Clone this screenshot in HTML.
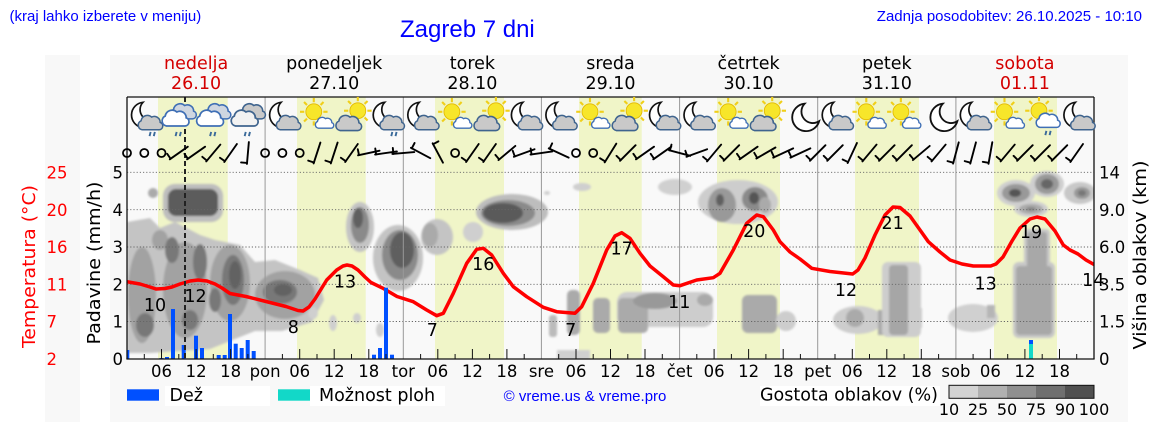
<!DOCTYPE html>
<html><head><meta charset="utf-8"><style>
html,body{margin:0;padding:0;background:#fff;}
svg{display:block;}
.d{font-family:"DejaVu Sans","Liberation Sans",sans-serif;}
.l{font-family:"Liberation Sans",Arial,sans-serif;}
</style></head><body>
<svg width="1152" height="443" viewBox="0 0 1152 443" xmlns="http://www.w3.org/2000/svg">
<defs>
<clipPath id="pc"><rect x="127" y="97" width="967" height="262"/></clipPath>
<filter id="bl" x="-5%" y="-5%" width="110%" height="110%"><feGaussianBlur stdDeviation="1.1"/></filter>
<path id="cl" d="M3 14 A4.5 4.5 0 0 1 2 5.5 A6 6 0 0 1 12 2 A5.5 5.5 0 0 1 20 7 A3.6 3.6 0 0 1 19 14 Z"/>
<path id="mn" d="M14.8 4.07 A12 12 0 1 0 27.52 19.33 A10 10 0 0 1 14.8 4.07 Z" fill="#fff" stroke="#111" stroke-width="1.6"/>
<g id="sun"><g stroke="#f0cf1a" stroke-width="2"><line x1="0" y1="-9" x2="0" y2="-13"/><line x1="0" y1="9" x2="0" y2="13"/><line x1="-9" y1="0" x2="-13" y2="0"/><line x1="9" y1="0" x2="13" y2="0"/><line x1="6.4" y1="6.4" x2="9.2" y2="9.2"/><line x1="-6.4" y1="6.4" x2="-9.2" y2="9.2"/><line x1="6.4" y1="-6.4" x2="9.2" y2="-9.2"/><line x1="-6.4" y1="-6.4" x2="-9.2" y2="-9.2"/></g><circle r="7.5" fill="#f7e62a" stroke="#e2b800" stroke-width="0.8"/></g>
<g id="rn" stroke="#3a6a9a" stroke-width="1.8"><line x1="2" y1="0" x2="1" y2="4"/><line x1="6" y1="0" x2="5" y2="4"/></g>
<g id="MC"><use href="#mn"/><use href="#cl" transform="translate(11,16) scale(1.0)" fill="#c9c9c9" stroke="#3f648e" stroke-width="1.4"/></g>
<g id="MCR"><use href="#MC"/><use href="#rn" transform="translate(20,32)"/></g>
<g id="SS"><use href="#sun" transform="translate(13,13)"/><use href="#cl" transform="translate(15,18) scale(0.75)" fill="#fff" stroke="#3f6fb5" stroke-width="1.7"/></g>
<g id="SC"><use href="#sun" transform="translate(22,12)"/><use href="#cl" transform="translate(2,16) scale(1.05)" fill="#c9c9c9" stroke="#3f648e" stroke-width="1.4"/></g>
<g id="SCR"><use href="#sun" transform="translate(13,12)"/><use href="#cl" transform="translate(11,14) scale(0.98)" fill="#fff" stroke="#3f6fb5" stroke-width="1.5"/><use href="#rn" transform="translate(18,31)"/></g>
<g id="CRW"><use href="#cl" transform="translate(9,5) scale(1.05)" fill="#cfd6e0" stroke="#3f6fb5" stroke-width="1.4"/><use href="#cl" transform="translate(1,11) scale(1.1)" fill="#fff" stroke="#3f6fb5" stroke-width="1.5"/><use href="#rn" transform="translate(12,32)"/></g>
<g id="CRG"><use href="#cl" transform="translate(9,5) scale(1.05)" fill="#c9c9c9" stroke="#3f648e" stroke-width="1.4"/><use href="#cl" transform="translate(1,11) scale(1.1)" fill="#f2f2f2" stroke="#3f648e" stroke-width="1.5"/><use href="#rn" transform="translate(12,32)"/></g>
<g id="M"><use href="#mn" transform="translate(4,1) scale(1.08)"/></g>
<g id="b" stroke="#000" stroke-width="1.9" stroke-linecap="round"><line x1="-11" y1="0" x2="11" y2="0"/><line x1="-10" y1="0" x2="-10" y2="-6"/></g>
</defs>

<rect width="1152" height="443" fill="#fff"/>
<rect x="110" y="55" width="1018" height="367" fill="#f8f8f8"/>
<rect x="45" y="55" width="35" height="367" fill="#f8f8f8"/>

<text class="l" x="9.5" y="21" font-size="15" fill="#0000ff">(kraj lahko izberete v meniju)</text>
<text class="l" x="1142" y="21" font-size="15" fill="#0000ff" text-anchor="end">Zadnja posodobitev: 26.10.2025 - 10:10</text>
<text class="l" x="400" y="37" font-size="24" fill="#0000ff">Zagreb 7 dni</text>

<g class="d" font-size="17.5" text-anchor="middle">
<text x="196.1" y="69" fill="#d40000">nedelja</text><text x="196.1" y="89" fill="#d40000">26.10</text>
<text x="334.2" y="69" fill="#000">ponedeljek</text><text x="334.2" y="89" fill="#000">27.10</text>
<text x="472.4" y="69" fill="#000">torek</text><text x="472.4" y="89" fill="#000">28.10</text>
<text x="610.5" y="69" fill="#000">sreda</text><text x="610.5" y="89" fill="#000">29.10</text>
<text x="748.6" y="69" fill="#000">četrtek</text><text x="748.6" y="89" fill="#000">30.10</text>
<text x="886.8" y="69" fill="#000">petek</text><text x="886.8" y="89" fill="#000">31.10</text>
<text x="1024.9" y="69" fill="#d40000">sobota</text><text x="1024.9" y="89" fill="#d40000">01.11</text>
</g>

<rect x="127" y="97" width="967" height="262" fill="#f9f9f9"/>
<g fill="#f0f5c8">
<rect x="158" y="97" width="69.7" height="262"/>
<rect x="297" y="97" width="68.7" height="262"/>
<rect x="435" y="97" width="69" height="262"/>
<rect x="579" y="97" width="62.7" height="262"/>
<rect x="717" y="97" width="63" height="262"/>
<rect x="855" y="97" width="64" height="262"/>
<rect x="994" y="97" width="63" height="262"/>
</g>

<g clip-path="url(#pc)" filter="url(#bl)">
<path d="M127 222 L150 218 L160 228 L175 222 L200 235 L215 240 L240 245 L255 262 L275 260 L300 270 L318 278 L324 300 L312 322 L282 331 L255 331 L230 341 L210 349 L180 351 L150 353 L127 353 Z" fill="#c4c4c4"/>
<rect x="163" y="184" width="60" height="38" rx="12" fill="#bdbdbd"/>
<rect x="168" y="189" width="50" height="27" rx="8" fill="#5c5c5c"/>
<ellipse cx="153" cy="193" rx="5" ry="5" fill="#aaa"/>
<g fill="#a2a2a2">
<ellipse cx="142" cy="295" rx="14" ry="48"/><ellipse cx="185" cy="290" rx="22" ry="48"/><ellipse cx="230" cy="283" rx="20" ry="38"/><ellipse cx="285" cy="295" rx="30" ry="24"/><ellipse cx="160" cy="240" rx="8" ry="10"/>
</g>
<g fill="#787878">
<ellipse cx="172" cy="250" rx="7" ry="13"/><ellipse cx="200" cy="262" rx="7" ry="18"/><ellipse cx="233" cy="280" rx="11" ry="25"/><ellipse cx="280" cy="292" rx="17" ry="12"/><ellipse cx="145" cy="325" rx="9" ry="12"/><ellipse cx="190" cy="320" rx="8" ry="10"/><ellipse cx="215" cy="300" rx="6" ry="12"/>
</g>
<g fill="#626262"><ellipse cx="235" cy="275" rx="6" ry="14"/><ellipse cx="283" cy="290" rx="9" ry="6"/></g>
<ellipse cx="360" cy="227" rx="14" ry="25" fill="#c4c4c4"/><ellipse cx="360" cy="225" rx="9" ry="18" fill="#8a8a8a"/><ellipse cx="358" cy="218" rx="5" ry="10" fill="#606060"/>
<ellipse cx="398" cy="258" rx="25" ry="33" fill="#c4c4c4"/><ellipse cx="400" cy="255" rx="18" ry="25" fill="#8a8a8a"/><ellipse cx="402" cy="250" rx="12" ry="18" fill="#5f5f5f"/>
<ellipse cx="437" cy="237" rx="16" ry="18" fill="#c4c4c4"/><ellipse cx="430" cy="235" rx="8" ry="12" fill="#aaa"/>
<ellipse cx="473" cy="232" rx="10" ry="10" fill="#cfcfcf"/>
<ellipse cx="512" cy="212" rx="36" ry="18" fill="#bdbdbd"/><ellipse cx="508" cy="213" rx="27" ry="13" fill="#8a8a8a"/><ellipse cx="503" cy="213" rx="20" ry="10" fill="#5a5a5a"/>
<g fill="#cfcfcf"><ellipse cx="313" cy="313" rx="5" ry="6"/><ellipse cx="333" cy="323" rx="4" ry="8"/><ellipse cx="357" cy="318" rx="4" ry="5"/><ellipse cx="380" cy="330" rx="4" ry="7"/><ellipse cx="320" cy="288" rx="3" ry="4"/></g>
<ellipse cx="582" cy="187" rx="9" ry="4" fill="#cfcfcf"/><ellipse cx="547" cy="193" rx="3" ry="2" fill="#cfcfcf"/>
<ellipse cx="675" cy="187" rx="17" ry="8" fill="#d0d0d0"/>
<rect x="567" y="290" width="13" height="45" rx="5" fill="#aaa"/>
<rect x="549" y="315" width="8" height="22" rx="3" fill="#bbb"/>
<rect x="557" y="350" width="33" height="12" fill="#d0d0d0"/>
<rect x="593" y="298" width="17" height="35" rx="5" fill="#aaa"/>
<rect x="617" y="292" width="96" height="35" rx="10" fill="#cdcdcd"/>
<rect x="618" y="298" width="30" height="35" rx="5" fill="#aaa"/>
<ellipse cx="655" cy="301" rx="22" ry="8" fill="#999"/>
<ellipse cx="705" cy="300" rx="8" ry="6" fill="#aaa"/>
<rect x="742" y="295" width="35" height="38" rx="6" fill="#aaa"/>
<ellipse cx="786" cy="321" rx="10" ry="10" fill="#cdcdcd"/>
<ellipse cx="738" cy="202" rx="40" ry="22" fill="#cdcdcd"/>
<ellipse cx="722" cy="205" rx="14" ry="17" fill="#999"/><ellipse cx="755" cy="199" rx="13" ry="12" fill="#8a8a8a"/>
<ellipse cx="720" cy="200" rx="4" ry="6" fill="#606060"/><ellipse cx="754" cy="198" rx="5" ry="6" fill="#555"/>
<ellipse cx="765" cy="205" rx="6" ry="8" fill="#aaa"/>
<ellipse cx="858" cy="320" rx="25" ry="14" fill="#cdcdcd"/><ellipse cx="855" cy="318" rx="9" ry="9" fill="#aaa"/>
<rect x="878" y="310" width="6" height="25" fill="#aaa"/>
<rect x="882" y="262" width="39" height="75" rx="6" fill="#cdcdcd"/>
<rect x="889" y="265" width="19" height="70" rx="4" fill="#a6a6a6"/>
<rect x="913" y="308" width="9" height="20" fill="#cdcdcd"/>
<ellipse cx="973" cy="318" rx="25" ry="14" fill="#d0d0d0"/><rect x="987" y="305" width="8" height="13" fill="#b5b5b5"/>
<rect x="1013" y="262" width="42" height="76" rx="6" fill="#c8c8c8"/>
<rect x="1024" y="229" width="26" height="40" rx="4" fill="#c8c8c8"/>
<rect x="1016" y="266" width="36" height="69" rx="4" fill="#a8a8a8"/>
<rect x="1027" y="232" width="20" height="36" rx="3" fill="#a8a8a8"/>
<ellipse cx="1016" cy="193" rx="19" ry="13" fill="#cfcfcf"/><ellipse cx="1047" cy="184" rx="17" ry="13" fill="#cfcfcf"/><ellipse cx="1031" cy="209" rx="17" ry="8" fill="#cfcfcf"/>
<ellipse cx="1016" cy="193" rx="14" ry="9" fill="#999"/><ellipse cx="1047" cy="184" rx="12" ry="10" fill="#999"/><ellipse cx="1031" cy="209" rx="12" ry="5" fill="#aaa"/>
<ellipse cx="1015" cy="193" rx="6" ry="4" fill="#555"/><ellipse cx="1047" cy="184" rx="6" ry="5" fill="#666"/><ellipse cx="1031" cy="209" rx="5" ry="2" fill="#888"/>
<ellipse cx="1080" cy="193" rx="16" ry="11" fill="#c8c8c8"/><ellipse cx="1082" cy="193" rx="8" ry="6" fill="#999"/><ellipse cx="1082" cy="193" rx="4" ry="3" fill="#777"/>
</g>

<g stroke="#666" stroke-width="0.9" stroke-dasharray="1.2,2">
<line x1="127" y1="172.3" x2="1094" y2="172.3"/>
<line x1="127" y1="209.7" x2="1094" y2="209.7"/>
<line x1="127" y1="247" x2="1094" y2="247"/>
<line x1="127" y1="284.3" x2="1094" y2="284.3"/>
<line x1="127" y1="321.5" x2="1094" y2="321.5"/>
</g>
<g stroke="#999" stroke-width="1">
<line x1="265.1" y1="97" x2="265.1" y2="359"/>
<line x1="403.3" y1="97" x2="403.3" y2="359"/>
<line x1="541.4" y1="97" x2="541.4" y2="359"/>
<line x1="679.6" y1="97" x2="679.6" y2="359"/>
<line x1="817.7" y1="97" x2="817.7" y2="359"/>
<line x1="955.9" y1="97" x2="955.9" y2="359"/>
</g>

<polyline fill="none" stroke="#ff0000" stroke-width="3.5" stroke-linejoin="round" stroke-linecap="round" clip-path="url(#pc)" points="127,281.7 140,284 150,287 156,289 165,288.5 172,287 180,284 190,281 198,280 207,281 215,284 222,288 230,293.5 246,296.5 266,301.5 286,306.5 298,310.5 303,311 309,307 315,299 326.7,280 336.7,270 343,266 347,265 352,266 358,270 365,277 371,282.5 383,288.3 397,296.5 413.3,301.7 426.7,310 436.7,315.7 443.3,313.3 453.3,293.3 466.7,263.3 476.7,249.3 483.3,248.3 491.7,255 503.3,273.3 513.3,286.7 526.7,296.7 543.3,307.3 556.7,311.7 575,313.3 581.7,306.7 593.3,283.3 606.7,250 615,236 621.7,232.7 630,238.3 640,253.3 650,266 663.3,276.7 673.3,285 680,285.7 696.7,280 713.3,277.7 720,273.3 733.3,250 746.7,223.3 756.7,215 763.3,216.7 773.3,230 780,241.7 790,252 800,259 811.7,268.3 830,271.5 852.7,274 858,270 865,258 875,235 885,215 893,207 900,207.5 910,216 920,230 928.3,241.7 940,252 950,260 962,264 973.3,266 990.7,266 996,264 1003,257 1012,241 1020,228 1030,219 1037,217 1045,219 1055,231 1063.3,245 1070,250 1078,254 1086,260 1094,264.5"/>

<g fill="#0050ff">
<rect x="127.3" y="350" width="2" height="9"/>
<rect x="159.5" y="358" width="4" height="1"/>
<rect x="165" y="357" width="4" height="2"/>
<rect x="171" y="309" width="4" height="50"/>
<rect x="181.7" y="345" width="4" height="14"/>
<rect x="194" y="335.7" width="4" height="23.3"/>
<rect x="200" y="348" width="4" height="11"/>
<rect x="216.7" y="355" width="4" height="4"/>
<rect x="222.7" y="355" width="4" height="4"/>
<rect x="228" y="314" width="4" height="45"/>
<rect x="233.7" y="343.7" width="4" height="15.3"/>
<rect x="239.7" y="348" width="4" height="11"/>
<rect x="245.7" y="340" width="4" height="19"/>
<rect x="251.7" y="351" width="4" height="8"/>
<rect x="372" y="354.7" width="4" height="4.3"/>
<rect x="378" y="348" width="4" height="11"/>
<rect x="384" y="287.7" width="4" height="71.3"/>
<rect x="390" y="354.7" width="4" height="4.3"/>
<rect x="1029" y="340" width="4" height="4"/>
</g>
<rect x="1029" y="344" width="4" height="15" fill="#12d8c8"/>

<line x1="185" y1="97" x2="185" y2="359" stroke="#222" stroke-width="2" stroke-dasharray="5,3"/>

<g stroke="#111" stroke-width="1.3" fill="none">
<line x1="127" y1="97" x2="1094" y2="97"/>
<line x1="127" y1="97" x2="127" y2="359"/>
<line x1="1094" y1="97" x2="1094" y2="359"/>
<line x1="126.4" y1="359" x2="1094.6" y2="359"/>
</g>
<path stroke="#111" stroke-width="1" fill="none" d="M144.3 359v-5M161.5 359v-10M178.8 359v-5M196.1 359v-10M213.3 359v-5M230.6 359v-10M247.9 359v-5M282.4 359v-5M299.7 359v-10M317 359v-5M334.2 359v-10M351.5 359v-5M368.8 359v-10M386 359v-5M420.6 359v-5M437.8 359v-10M455.1 359v-5M472.4 359v-10M489.6 359v-5M506.9 359v-10M524.2 359v-5M558.7 359v-5M576 359v-10M593.2 359v-5M610.5 359v-10M627.8 359v-5M645 359v-10M662.3 359v-5M696.8 359v-5M714.1 359v-10M731.4 359v-5M748.6 359v-10M765.9 359v-5M783.2 359v-10M800.4 359v-5M835 359v-5M852.3 359v-10M869.5 359v-5M886.8 359v-10M904.1 359v-5M921.3 359v-10M938.6 359v-5M973.1 359v-5M990.4 359v-10M1007.7 359v-5M1024.9 359v-10M1042.2 359v-5M1059.5 359v-10M1076.7 359v-5"/>

<g transform="translate(0,0)">
<use href="#MCR" transform="translate(127.3,98) scale(1.06)"/><use href="#CRW" transform="translate(161.8,98) scale(1.06)"/><use href="#CRW" transform="translate(196.3,98) scale(1.06)"/><use href="#CRG" transform="translate(230.9,98) scale(1.06)"/>
<use href="#MC" transform="translate(265.4,98) scale(1.06)"/><use href="#SS" transform="translate(300,98) scale(1.06)"/><use href="#SC" transform="translate(334.5,98) scale(1.06)"/><use href="#MCR" transform="translate(369,98) scale(1.06)"/>
<use href="#MC" transform="translate(403.6,98) scale(1.06)"/><use href="#SS" transform="translate(438.1,98) scale(1.06)"/><use href="#SC" transform="translate(472.6,98) scale(1.06)"/><use href="#MC" transform="translate(507.2,98) scale(1.06)"/>
<use href="#MC" transform="translate(541.7,98) scale(1.06)"/><use href="#SS" transform="translate(576.2,98) scale(1.06)"/><use href="#SC" transform="translate(610.8,98) scale(1.06)"/><use href="#MC" transform="translate(645.3,98) scale(1.06)"/>
<use href="#MC" transform="translate(679.8,98) scale(1.06)"/><use href="#SS" transform="translate(714.4,98) scale(1.06)"/><use href="#SC" transform="translate(748.9,98) scale(1.06)"/><use href="#M" transform="translate(783.4,98) scale(1.06)"/>
<use href="#MC" transform="translate(818,98) scale(1.06)"/><use href="#SS" transform="translate(852.5,98) scale(1.06)"/><use href="#SS" transform="translate(887.1,98) scale(1.06)"/><use href="#M" transform="translate(921.6,98) scale(1.06)"/>
<use href="#MC" transform="translate(956.1,98) scale(1.06)"/><use href="#SS" transform="translate(990.7,98) scale(1.06)"/><use href="#SCR" transform="translate(1025.2,98) scale(1.06)"/><use href="#MC" transform="translate(1059.7,98) scale(1.06)"/>
</g>

<g fill="none" stroke="#000" stroke-width="1.8">
<circle cx="127" cy="153" r="4"/><circle cx="144.3" cy="153" r="4"/><circle cx="161.5" cy="153" r="4"/>
<circle cx="265.1" cy="153" r="4"/><circle cx="282.4" cy="153" r="4"/><circle cx="299.7" cy="153" r="4"/>
<circle cx="455.1" cy="153" r="4"/><circle cx="576" cy="153" r="4"/><circle cx="593.2" cy="153" r="4"/>
</g>
<use href="#b" transform="translate(178.8,153) rotate(-35)"/>
<use href="#b" transform="translate(196.1,153) rotate(-35)"/>
<use href="#b" transform="translate(213.3,153) rotate(-50)"/>
<use href="#b" transform="translate(230.6,153) rotate(-55)"/>
<use href="#b" transform="translate(247.9,153) rotate(-85)"/>
<use href="#b" transform="translate(317,153) rotate(-72)"/>
<use href="#b" transform="translate(334.2,153) rotate(-72)"/>
<use href="#b" transform="translate(351.5,153) rotate(-55)"/>
<use href="#b" transform="translate(368.8,153) rotate(-12)"/>
<use href="#b" transform="translate(386,153) rotate(-8)"/>
<use href="#b" transform="translate(403.3,153) rotate(-5)"/>
<use href="#b" transform="translate(420.6,153) rotate(28)"/>
<use href="#b" transform="translate(437.8,153) rotate(62)"/>
<use href="#b" transform="translate(472.4,153) rotate(-55)"/>
<use href="#b" transform="translate(489.6,153) rotate(-55)"/>
<use href="#b" transform="translate(506.9,153) rotate(-40)"/>
<use href="#b" transform="translate(524.2,153) rotate(-20)"/>
<use href="#b" transform="translate(541.4,153) rotate(-8)"/>
<use href="#b" transform="translate(558.7,153) rotate(25)"/>
<use href="#b" transform="translate(610.5,153) rotate(-58)"/>
<use href="#b" transform="translate(627.8,153) rotate(-45)"/>
<use href="#b" transform="translate(645,153) rotate(-35)"/>
<use href="#b" transform="translate(662.3,153) rotate(-35)"/>
<use href="#b" transform="translate(679.6,153) rotate(15)"/>
<use href="#b" transform="translate(696.8,153) rotate(-20)"/>
<use href="#b" transform="translate(714.1,153) rotate(-50)"/>
<use href="#b" transform="translate(731.4,153) rotate(-45)"/>
<use href="#b" transform="translate(748.6,153) rotate(-35)"/>
<use href="#b" transform="translate(765.9,153) rotate(-30)"/>
<use href="#b" transform="translate(783.2,153) rotate(-25)"/>
<use href="#b" transform="translate(800.4,153) rotate(-25)"/>
<use href="#b" transform="translate(817.7,153) rotate(-45)"/>
<use href="#b" transform="translate(835,153) rotate(-45)"/>
<use href="#b" transform="translate(852.3,153) rotate(-65)"/>
<use href="#b" transform="translate(869.5,153) rotate(-50)"/>
<use href="#b" transform="translate(886.8,153) rotate(-45)"/>
<use href="#b" transform="translate(904.1,153) rotate(-45)"/>
<use href="#b" transform="translate(921.3,153) rotate(-40)"/>
<use href="#b" transform="translate(938.6,153) rotate(-50)"/>
<use href="#b" transform="translate(955.9,153) rotate(-75)"/>
<use href="#b" transform="translate(973.1,153) rotate(-75)"/>
<use href="#b" transform="translate(990.4,153) rotate(-80)"/>
<use href="#b" transform="translate(1007.7,153) rotate(-50)"/>
<use href="#b" transform="translate(1024.9,153) rotate(-45)"/>
<use href="#b" transform="translate(1042.2,153) rotate(-45)"/>
<use href="#b" transform="translate(1059.5,153) rotate(-45)"/>
<use href="#b" transform="translate(1076.7,153) rotate(-55)"/>

<g class="d" font-size="17.5" text-anchor="middle" fill="#000">
<text x="155" y="311">10</text><text x="195.5" y="302">12</text><text x="293.3" y="333">8</text><text x="345" y="287.5">13</text>
<text x="432.3" y="336">7</text><text x="483.3" y="270">16</text><text x="570.7" y="336">7</text><text x="621.7" y="254.5">17</text>
<text x="679.3" y="308">11</text><text x="754.3" y="237">20</text><text x="846" y="296">12</text><text x="892.7" y="229">21</text>
<text x="985.7" y="289.5">13</text><text x="1031" y="238">19</text><text x="1093.3" y="286">14</text>
</g>

<g class="d" font-size="16.5" fill="#000" text-anchor="end">
<text x="123" y="365">0</text><text x="123" y="327.7">1</text><text x="123" y="290.5">2</text><text x="123" y="253">3</text><text x="123" y="215.8">4</text><text x="123" y="178.4">5</text>
</g>
<g class="d" font-size="16.5" fill="#ff0000">
<text x="46.5" y="365">2</text><text x="46.5" y="327.7">7</text><text x="46.5" y="290.5">11</text><text x="46.5" y="253">16</text><text x="46.5" y="215.8">20</text><text x="46.5" y="178.4">25</text>
</g>
<g class="d" font-size="16.5" fill="#000">
<text x="1099" y="365">0</text><text x="1099" y="327.7">1.5</text><text x="1099" y="290.5">3.5</text><text x="1099" y="253">6.0</text><text x="1099" y="215.8">9.0</text><text x="1099" y="178.4">14</text>
</g>
<g class="d" font-size="16.5" fill="#000" text-anchor="middle">
<text x="161.5" y="377">06</text><text x="196.1" y="377">12</text><text x="230.6" y="377">18</text>
<text x="265.1" y="377">pon</text><text x="299.7" y="377">06</text><text x="334.2" y="377">12</text><text x="368.8" y="377">18</text>
<text x="403.3" y="377">tor</text><text x="437.8" y="377">06</text><text x="472.4" y="377">12</text><text x="506.9" y="377">18</text>
<text x="541.4" y="377">sre</text><text x="576" y="377">06</text><text x="610.5" y="377">12</text><text x="645" y="377">18</text>
<text x="679.6" y="377">čet</text><text x="714.1" y="377">06</text><text x="748.6" y="377">12</text><text x="783.2" y="377">18</text>
<text x="817.7" y="377">pet</text><text x="852.3" y="377">06</text><text x="886.8" y="377">12</text><text x="921.3" y="377">18</text>
<text x="955.9" y="377">sob</text><text x="990.4" y="377">06</text><text x="1024.9" y="377">12</text><text x="1059.5" y="377">18</text>
</g>

<text class="d" font-size="17.5" fill="#ff0000" text-anchor="middle" transform="translate(35,266.5) rotate(-90)" textLength="163" lengthAdjust="spacingAndGlyphs">Temperatura (°C)</text>
<text class="d" font-size="17.5" fill="#000" text-anchor="middle" transform="translate(100,263) rotate(-90)" textLength="163" lengthAdjust="spacingAndGlyphs">Padavine (mm/h)</text>
<text class="d" font-size="18" fill="#000" text-anchor="middle" transform="translate(1146,255) rotate(-90)" textLength="189" lengthAdjust="spacingAndGlyphs">Višina oblakov (km)</text>

<rect x="127" y="389.3" width="32" height="11.4" fill="#0050ff"/>
<rect x="165" y="386" width="105" height="20" fill="#fff"/>
<text class="d" x="169.5" y="401" font-size="17.5" fill="#000">Dež</text>
<rect x="278" y="389.3" width="32" height="11.4" fill="#12d8c8"/>
<rect x="310" y="386" width="135" height="20" fill="#fff"/>
<text class="d" x="319" y="401" font-size="17.5" fill="#000">Možnost ploh</text>
<text class="l" x="585" y="401" font-size="15" fill="#0000ff" text-anchor="middle">© vreme.us &amp; vreme.pro</text>
<rect x="760" y="386" width="180" height="20" fill="#fff"/>
<text class="d" x="760" y="400.5" font-size="17.5" fill="#000">Gostota oblakov (%)</text>
<rect x="949" y="385.3" width="29" height="13" fill="#d3d3d3"/>
<rect x="978" y="385.3" width="29" height="13" fill="#b0b0b0"/>
<rect x="1007" y="385.3" width="29" height="13" fill="#8f8f8f"/>
<rect x="1036" y="385.3" width="29" height="13" fill="#6f6f6f"/>
<rect x="1065" y="385.3" width="29" height="13" fill="#505050"/>
<rect x="949" y="385.3" width="145" height="13" fill="none" stroke="#111" stroke-width="1"/>
<g class="d" font-size="16" fill="#000" text-anchor="middle">
<text x="949" y="415">10</text><text x="978" y="415">25</text><text x="1007" y="415">50</text><text x="1036" y="415">75</text><text x="1065" y="415">90</text><text x="1094" y="415">100</text>
</g>
</svg>
</body></html>
